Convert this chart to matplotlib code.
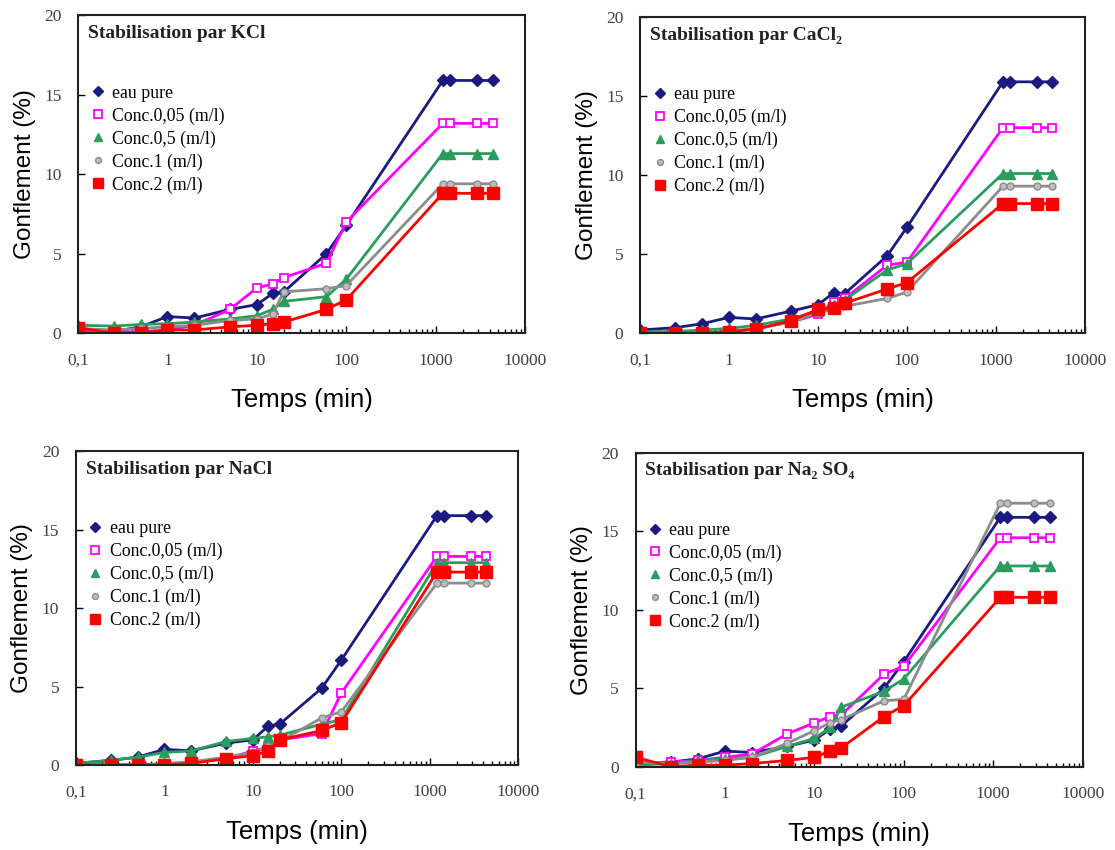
import matplotlib
matplotlib.use("Agg")
import matplotlib.pyplot as plt
from matplotlib.ticker import FixedLocator, LogLocator, NullFormatter

# temps de mesure (min)
temps = [0.1, 0.25, 0.5, 1, 2, 5, 10, 15, 20, 60, 100, 1200, 1440, 2880, 4320]

series_labels = ["eau pure", "Conc.0,05 (m/l)", "Conc.0,5 (m/l)", "Conc.1 (m/l)", "Conc.2 (m/l)"]

# KCl
kcl_eau = [0.2, 0.1, 0.4, 1.05, 0.95, 1.5, 1.8, 2.5, 2.6, 5.0, 6.8, 15.9, 15.9, 15.9, 15.9]
kcl_c005 = [0.2, 0.05, 0.1, 0.2, 0.5, 1.5, 2.85, 3.1, 3.5, 4.4, 7.0, 13.2, 13.2, 13.2, 13.2]
kcl_c05 = [0.5, 0.45, 0.55, 0.6, 0.7, 0.9, 1.1, 1.5, 2.0, 2.3, 3.4, 11.3, 11.3, 11.3, 11.3]
kcl_c1 = [0.3, 0.2, 0.3, 0.4, 0.5, 0.8, 0.9, 1.2, 2.6, 2.8, 3.0, 9.4, 9.4, 9.4, 9.4]
kcl_c2 = [0.35, 0.0, 0.0, 0.2, 0.2, 0.4, 0.5, 0.6, 0.7, 1.5, 2.1, 8.8, 8.8, 8.8, 8.8]

# CaCl2
cacl2_eau = [0.2, 0.35, 0.6, 1.0, 0.9, 1.4, 1.8, 2.55, 2.5, 4.9, 6.7, 15.9, 15.9, 15.9, 15.9]
cacl2_c005 = [0.0, 0.0, 0.0, 0.1, 0.3, 0.7, 1.2, 2.0, 2.2, 4.3, 4.5, 13.0, 13.0, 13.0, 13.0]
cacl2_c05 = [0.1, 0.1, 0.2, 0.3, 0.5, 0.9, 1.4, 1.8, 2.1, 4.0, 4.4, 10.1, 10.1, 10.1, 10.1]
cacl2_c1 = [0.0, 0.0, 0.0, 0.1, 0.3, 0.7, 1.3, 1.5, 1.7, 2.2, 2.6, 9.3, 9.3, 9.3, 9.3]
cacl2_c2 = [0.0, 0.0, 0.0, 0.1, 0.25, 0.8, 1.5, 1.6, 1.9, 2.8, 3.2, 8.2, 8.2, 8.2, 8.2]

# NaCl
nacl_eau = [0.1, 0.3, 0.5, 1.0, 0.9, 1.4, 1.6, 2.5, 2.6, 4.9, 6.7, 15.9, 15.9, 15.9, 15.9]
nacl_c005 = [0.0, 0.0, 0.0, 0.05, 0.2, 0.4, 0.9, 1.1, 1.6, 2.0, 4.6, 13.3, 13.3, 13.3, 13.3]
nacl_c05 = [0.1, 0.3, 0.5, 0.8, 0.9, 1.5, 1.7, 1.8, 1.9, 2.6, 2.9, 12.9, 12.9, 12.9, 12.9]
nacl_c1 = [0.0, 0.0, 0.0, 0.1, 0.2, 0.5, 0.8, 1.2, 1.5, 3.0, 3.4, 11.6, 11.6, 11.6, 11.6]
nacl_c2 = [0.0, 0.0, 0.0, 0.0, 0.1, 0.4, 0.6, 0.9, 1.6, 2.2, 2.7, 12.3, 12.3, 12.3, 12.3]

# Na2SO4
na2so4_eau = [0.2, 0.3, 0.5, 1.0, 0.9, 1.3, 1.7, 2.4, 2.6, 5.0, 6.7, 15.9, 15.9, 15.9, 15.9]
na2so4_c005 = [0.2, 0.3, 0.4, 0.6, 0.8, 2.1, 2.8, 3.2, 3.3, 5.9, 6.4, 14.6, 14.6, 14.6, 14.6]
na2so4_c05 = [0.1, 0.2, 0.4, 0.5, 0.6, 1.3, 1.8, 2.5, 3.8, 4.8, 5.6, 12.8, 12.8, 12.8, 12.8]
na2so4_c1 = [0.3, 0.2, 0.3, 0.4, 0.6, 1.5, 2.3, 2.8, 3.0, 4.2, 4.3, 16.8, 16.8, 16.8, 16.8]
na2so4_c2 = [0.6, 0.0, 0.1, 0.1, 0.2, 0.4, 0.6, 1.0, 1.2, 3.2, 3.9, 10.8, 10.8, 10.8, 10.8]

panels = [
    ("Stabilisation par KCl", [kcl_eau, kcl_c005, kcl_c05, kcl_c1, kcl_c2]),
    ("Stabilisation par CaCl\u2082", [cacl2_eau, cacl2_c005, cacl2_c05, cacl2_c1, cacl2_c2]),
    ("Stabilisation par NaCl", [nacl_eau, nacl_c005, nacl_c05, nacl_c1, nacl_c2]),
    ("Stabilisation par Na\u2082 SO\u2084", [na2so4_eau, na2so4_c005, na2so4_c05, na2so4_c1, na2so4_c2]),
]

# style de chaque série
styles = [
    dict(color="#1a1a80", marker="D", ms=6, mfc="#1a1a80", mec="#1a1a80"),
    dict(color="#ff00ff", marker="s", ms=6, mfc="white", mec="#ff00ff", mew=1.3),
    dict(color="#2a9d5c", marker="^", ms=7, mfc="#2a9d5c", mec="#2a9d5c"),
    dict(color="#8c8c8c", marker="o", ms=5, mfc="#bdbdbd", mec="#8c8c8c"),
    dict(color="#ff0000", marker="s", ms=8, mfc="#ff0000", mec="#ff0000"),
]

serif = ["Liberation Serif", "DejaVu Serif"]
sans = ["Liberation Sans", "DejaVu Sans"]

fig = plt.figure(figsize=(11.15, 8.5), dpi=100)
boxes = [
    [0.070, 0.608, 0.401, 0.374],
    [0.574, 0.608, 0.399, 0.372],
    [0.068, 0.100, 0.397, 0.369],
    [0.570, 0.098, 0.401, 0.369],
]

for (title, data), box in zip(panels, boxes):
    ax = fig.add_axes(box)
    for vals, lab, st in zip(data, series_labels, styles):
        ax.plot(temps, vals, lw=2, label=lab, **st)
    ax.set_xscale("log")
    ax.set_xlim(0.1, 10000)
    ax.set_ylim(0, 20)
    ax.xaxis.set_major_locator(FixedLocator([0.1, 1, 10, 100, 1000, 10000]))
    ax.xaxis.set_minor_locator(LogLocator(base=10, subs=range(2, 10)))
    ax.xaxis.set_minor_formatter(NullFormatter())
    ax.set_xticklabels(["0,1", "1", "10", "100", "1000", "10000"])
    ax.set_yticks([0, 5, 10, 15, 20])
    ax.tick_params(axis="both", which="major", direction="in", length=5, width=1,
                   labelsize=12.5, labelcolor="#404040", top=False, right=False)
    ax.tick_params(axis="x", which="major", pad=14)
    ax.tick_params(axis="y", which="major", pad=12)
    ax.tick_params(axis="x", which="minor", direction="in", length=3, width=1, top=False)
    for lbl in ax.get_xticklabels() + ax.get_yticklabels():
        lbl.set_family(serif)
    for sp in ax.spines.values():
        sp.set_linewidth(1.5)
        sp.set_color("#222222")
    ax.set_xlabel("Temps (min)", fontsize=18.5, family=sans, labelpad=14)
    ax.set_ylabel("Gonflement (%)", fontsize=17.5, family=sans, labelpad=6)
    ax.text(0.022, 0.943, title, transform=ax.transAxes, fontsize=14,
            fontweight="bold", family=serif, va="center", ha="left", color="#222222")
    ax.legend(loc="upper left", bbox_to_anchor=(-0.012, 0.832), frameon=False,
              prop=dict(family=serif, size=12.8), handlelength=1.0, numpoints=1,
              handletextpad=0.3, labelspacing=0.32, markerscale=0.85)
    for h in ax.get_legend().legend_handles:
        h.set_linestyle("none")

fig.savefig("out.png", dpi=100)
